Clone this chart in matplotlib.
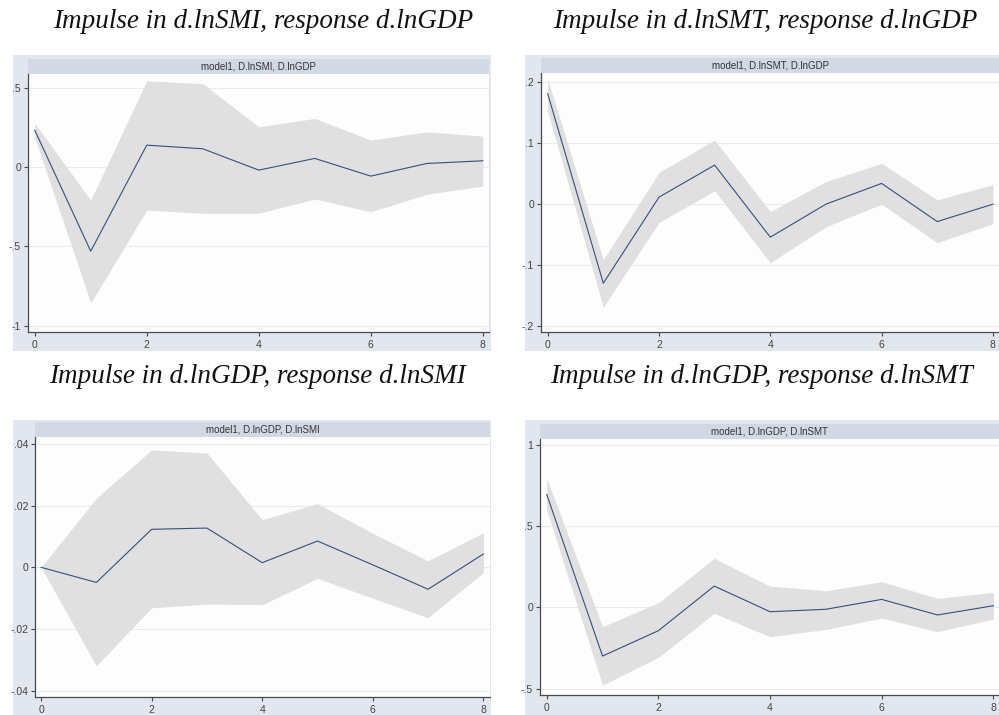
import matplotlib
matplotlib.use("Agg")
import matplotlib.pyplot as plt
from matplotlib.patches import Rectangle

# Impulse-response steps
steps = [0, 1, 2, 3, 4, 5, 6, 7, 8]

# Impulse d.lnSMI -> response d.lnGDP
irf_smi_gdp = [0.236, -0.530, 0.141, 0.118, -0.017, 0.057, -0.055, 0.025, 0.042]
lo_smi_gdp = [0.190, -0.857, -0.270, -0.290, -0.290, -0.200, -0.280, -0.170, -0.118]
hi_smi_gdp = [0.280, -0.207, 0.548, 0.530, 0.257, 0.310, 0.173, 0.225, 0.198]

# Impulse d.lnSMT -> response d.lnGDP
irf_smt_gdp = [0.181, -0.1295, 0.0115, 0.064, -0.054, 0.000, 0.034, -0.0285, 0.000]
lo_smt_gdp = [0.152, -0.169, -0.030, 0.022, -0.096, -0.037, 0.000, -0.063, -0.032]
hi_smt_gdp = [0.205, -0.091, 0.052, 0.105, -0.012, 0.037, 0.067, 0.007, 0.032]

# Impulse d.lnGDP -> response d.lnSMI
irf_gdp_smi = [0.0, -0.0049, 0.0123, 0.0127, 0.0015, 0.0085, 0.0008, -0.0071, 0.0043]
lo_gdp_smi = [0.0, -0.0319, -0.0131, -0.0119, -0.0121, -0.0036, -0.0100, -0.0163, -0.0017]
hi_gdp_smi = [0.0, 0.0224, 0.0380, 0.0370, 0.0154, 0.0206, 0.0110, 0.0021, 0.0112]

# Impulse d.lnGDP -> response d.lnSMT
irf_gdp_smt = [0.696, -0.300, -0.144, 0.131, -0.027, -0.012, 0.049, -0.047, 0.010]
lo_gdp_smt = [0.600, -0.479, -0.308, -0.037, -0.181, -0.136, -0.066, -0.150, -0.072]
hi_gdp_smt = [0.795, -0.119, 0.028, 0.302, 0.131, 0.102, 0.158, 0.055, 0.092]

titles = [
    "Impulse in d.lnSMI, response d.lnGDP",
    "Impulse in d.lnSMT, response d.lnGDP",
    "Impulse in d.lnGDP, response d.lnSMI",
    "Impulse in d.lnGDP, response d.lnSMT",
]
strip_labels = [
    "model1, D.lnSMI, D.lnGDP",
    "model1, D.lnSMT, D.lnGDP",
    "model1, D.lnGDP, D.lnSMI",
    "model1, D.lnGDP, D.lnSMT",
]
yticks = [
    [-1, -0.5, 0, 0.5],
    [-0.2, -0.1, 0, 0.1, 0.2],
    [-0.04, -0.02, 0, 0.02, 0.04],
    [-0.5, 0, 0.5, 1],
]
yticklabels = [
    ["-1", "-.5", "0", ".5"],
    ["-.2", "-.1", "0", ".1", ".2"],
    ["-.04", "-.02", "0", ".02", ".04"],
    ["-.5", "0", ".5", "1"],
]
xticks = [0, 2, 4, 6, 8]

series = [
    (irf_smi_gdp, lo_smi_gdp, hi_smi_gdp),
    (irf_smt_gdp, lo_smt_gdp, hi_smt_gdp),
    (irf_gdp_smi, lo_gdp_smi, hi_gdp_smi),
    (irf_gdp_smt, lo_gdp_smt, hi_gdp_smt),
]

W, H = 999, 715
fig = plt.figure(figsize=(W / 100, H / 100), dpi=100)
fig.patch.set_facecolor("white")

# pixel layout: background box, plot area, strip height, title centre, x range, y range
layout = [
    ((13, 55, 491, 351), (28, 74, 489, 332), 15, (263, 22), (-0.12, 8.11), (-1.041, 0.591)),
    ((525, 55, 999, 351), (541, 73, 999, 332), 15, (765, 22), (-0.12, 8.11), (-0.2093, 0.2148)),
    ((13, 420, 491, 715), (35, 437, 490, 697), 15, (257, 377), (-0.11, 8.12), (-0.04197, 0.04217)),
    ((525, 420, 999, 715), (540, 439, 999, 695), 15, (762, 377), (-0.12, 8.1), (-0.540, 1.037)),
]

BG = "#E1E6EF"
STRIP = "#D2D9E5"
PLOT_BG = "#FDFDFD"
GRID = "#E7EBF3"
BAND = "#E0E0E0"
LINE = "#34507F"
AXIS = "#4A4A4A"
LABEL = "#444444"


def fx(px):
    return px / W


def fy(py):
    return 1 - py / H


for i in range(4):
    (bx0, by0, bx1, by1), (ax0, ay0, ax1, ay1), sh, (tcx, tcy), xl, yl = layout[i]
    fig.patches.append(Rectangle((fx(bx0), fy(by1)), fx(bx1) - fx(bx0), fy(by0) - fy(by1),
                                 transform=fig.transFigure, facecolor=BG, edgecolor="none", zorder=-2))
    fig.patches.append(Rectangle((fx(ax0), fy(ay0)), fx(ax1) - fx(ax0), fy(ay0 - sh) - fy(ay0),
                                 transform=fig.transFigure, facecolor=STRIP, edgecolor="none", zorder=-1))
    fig.text(fx((ax0 + ax1) / 2), fy(ay0 - sh / 2), strip_labels[i], ha="center", va="center",
             fontsize=7, family="Liberation Sans", color="#333333", zorder=2)
    fig.text(fx(tcx), fy(tcy), titles[i], ha="center", va="center", fontsize=19.5,
             family="Liberation Serif", style="italic", color="#111111")

    ax = fig.add_axes([fx(ax0), fy(ay1), fx(ax1) - fx(ax0), fy(ay0) - fy(ay1)])
    ax.set_zorder(1)
    ax.set_facecolor(PLOT_BG)
    irf, lo, hi = series[i]
    ax.fill_between(steps, lo, hi, color=BAND, linewidth=0, zorder=2)
    ax.plot(steps, irf, color=LINE, linewidth=0.8, zorder=3)
    for t in yticks[i]:
        ax.axhline(t, color=GRID, linewidth=0.8, zorder=1)
    ax.set_xlim(*xl)
    ax.set_ylim(*yl)
    ax.set_xticks(xticks)
    ax.set_xticklabels([str(t) for t in xticks])
    ax.set_yticks(yticks[i])
    ax.set_yticklabels(yticklabels[i])
    for s in ["top", "right"]:
        ax.spines[s].set_visible(False)
    for s in ["left", "bottom"]:
        ax.spines[s].set_color(AXIS)
        ax.spines[s].set_linewidth(0.9)
    ax.tick_params(axis="both", direction="out", length=3, width=0.8, color=AXIS,
                   labelsize=7.5, labelcolor=LABEL)
    ax.tick_params(axis="x", pad=3)
    ax.tick_params(axis="y", pad=2)
    for lab in ax.get_xticklabels() + ax.get_yticklabels():
        lab.set_family("Liberation Sans")

fig.savefig("out.png", dpi=100, facecolor="white")
